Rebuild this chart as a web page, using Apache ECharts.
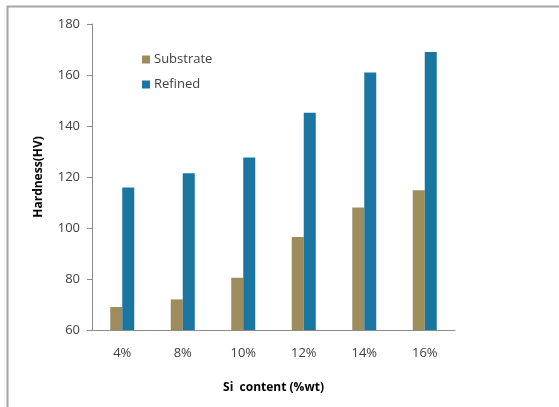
<!DOCTYPE html>
<html>
<head>
<meta charset="utf-8">
<script src="https://cdn.jsdelivr.net/npm/echarts@6/dist/echarts.min.js"></script>
<style>
  html, body { margin: 0; padding: 0; background: #fff; }
  #chart { width: 559px; height: 407px; }
</style>
</head>
<body>
<div id="chart"></div>
<script>
// Hardness of substrate vs refined alloy by Si content
const categories = ['4%', '8%', '10%', '12%', '14%', '16%'];
const substrate = [69, 72, 80.5, 96.5, 108, 114.8];
const refined = [115.9, 121.5, 127.6, 145.2, 161, 169];
const yTicks = { min: 60, max: 180, interval: 20 };

const font = '"Open Sans", "Liberation Sans", sans-serif';
const chart = echarts.init(document.getElementById('chart'), null, { renderer: 'canvas' });

chart.setOption({
  animation: false,
  backgroundColor: '#ffffff',
  textStyle: { fontFamily: font },
  graphic: [{
    type: 'rect',
    shape: { x: 7.5, y: 6.5, width: 600, height: 460 },
    style: { fill: 'none', stroke: '#a6a6a6', lineWidth: 2 },
    silent: true,
    z: -1
  }],
  grid: { left: 92, right: 104, top: 24, bottom: 77, containLabel: false },
  legend: {
    orient: 'vertical',
    left: 137,
    top: 48,
    itemWidth: 8,
    itemHeight: 8,
    itemGap: 12,
    icon: 'rect',
    textStyle: { fontFamily: font, fontSize: 13, color: '#404040', padding: [0, 0, 0, -1] },
    data: ['Substrate', 'Refined']
  },
  xAxis: {
    type: 'category',
    data: categories,
    name: 'Si  content (%wt)',
    nameLocation: 'middle',
    nameGap: 52,
    nameTextStyle: { fontFamily: font, fontSize: 12, fontWeight: 'bold', color: '#000' },
    axisLine: { lineStyle: { color: '#8c8c8c', width: 1 } },
    axisTick: { show: false },
    axisLabel: { fontFamily: font, fontSize: 13, color: '#404040', margin: 17 }
  },
  yAxis: {
    type: 'value',
    min: yTicks.min,
    max: yTicks.max,
    interval: yTicks.interval,
    name: 'Hardness(HV)',
    nameLocation: 'middle',
    nameGap: 47,
    nameRotate: 90,
    nameTextStyle: { fontFamily: font, fontSize: 12, fontWeight: 'bold', color: '#000' },
    axisLine: { show: true, lineStyle: { color: '#8c8c8c', width: 1 } },
    axisTick: { show: true, length: 5, lineStyle: { color: '#8c8c8c' } },
    splitLine: { show: false },
    axisLabel: { fontFamily: font, fontSize: 13, color: '#404040', margin: 12 }
  },
  series: [
    {
      name: 'Substrate',
      type: 'bar',
      data: substrate,
      barWidth: 12,
      barGap: '0%',
      itemStyle: { color: '#9e8c5d' }
    },
    {
      name: 'Refined',
      type: 'bar',
      data: refined,
      barWidth: 12,
      barGap: '0%',
      itemStyle: { color: '#1a76a0' }
    }
  ]
});
</script>
</body>
</html>
